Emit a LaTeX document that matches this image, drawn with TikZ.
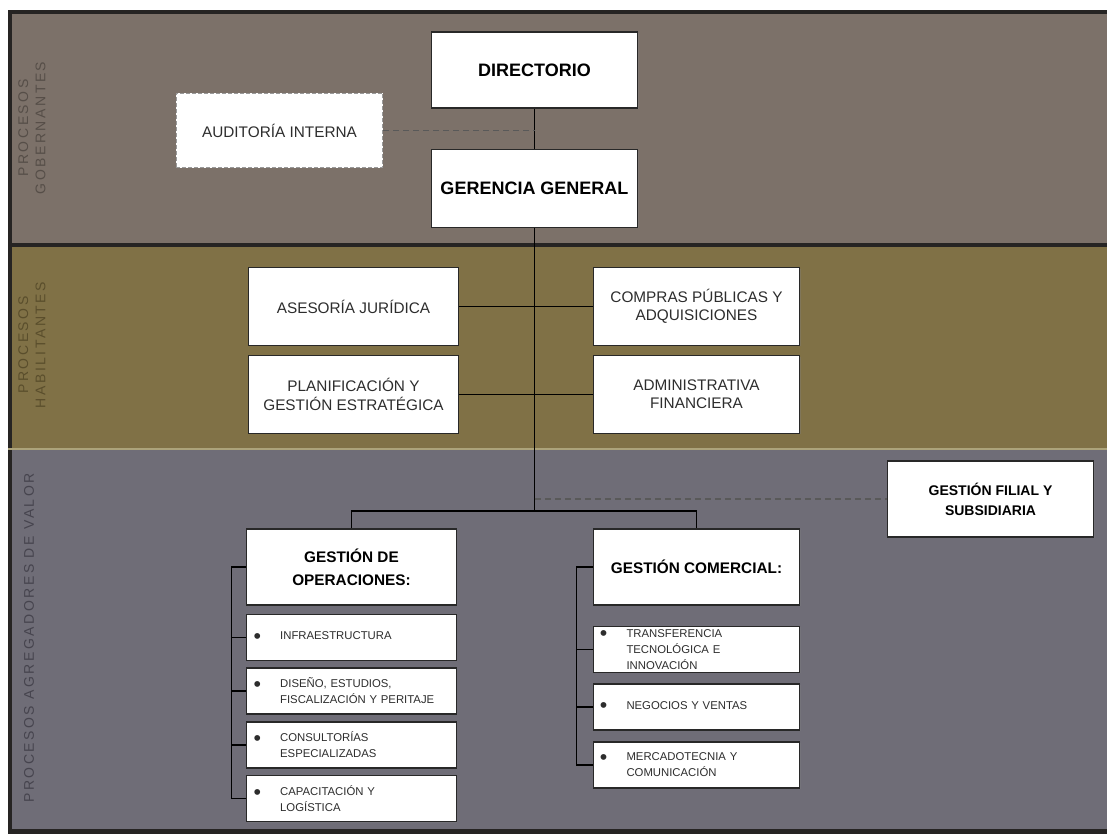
\documentclass[tikz,border=0pt]{standalone}
\usepackage{fontspec}
\setmainfont{Liberation Sans}
\newfontfamily\bandfont[LetterSpace=18]{Liberation Sans}
\usetikzlibrary{positioning,shadows}
\definecolor{bandgob}{RGB}{124,113,105}
\definecolor{bandhab}{RGB}{128,113,70}
\definecolor{bandval}{RGB}{111,109,119}
\definecolor{txtgob}{RGB}{86,78,72}
\definecolor{txthab}{RGB}{90,78,44}
\definecolor{txtval}{RGB}{70,68,78}
\definecolor{framedark}{RGB}{38,36,35}
\definecolor{bandline}{RGB}{172,163,122}
\definecolor{boxline}{RGB}{40,40,40}
\definecolor{boxtext}{RGB}{45,45,45}
\newcommand{\itm}[1]{\makebox[20pt][l]{\raisebox{-2.8pt}{\fontsize{16}{12}\selectfont\textbullet}}\parbox[t]{125pt}{#1}}

\begin{document}
\begin{tikzpicture}[
    x=0.75pt, y=-0.75pt,
    node distance=5pt,
    plainbox/.style={draw=boxline, fill=white, line width=0.9pt, align=center,
                text=boxtext, font=\fontsize{11.5}{13.8}\selectfont,
                minimum width=155pt, minimum height=57pt, inner sep=2pt},
    box/.style={plainbox, drop shadow={shadow xshift=0.8pt, shadow yshift=-0.8pt, opacity=0.35}},
    boxbold/.style={box, font=\bfseries\fontsize{11.5}{17}\selectfont, text=black},
    topbox/.style={boxbold, font=\bfseries\fontsize{13.5}{16}\selectfont},
    dashbox/.style={plainbox, draw=black!40, dash pattern=on 3pt off 1.5pt},
    itembox/.style={box, align=left, font=\fontsize{8.5}{12}\selectfont,
                minimum height=34.5pt, text width=147pt, inner xsep=5pt},
    band/.style={rotate=90, align=center, font=\bandfont\fontsize{10.5}{13}\selectfont},
    conn/.style={line width=0.9pt, black},
    dconn/.style={line width=0.9pt, black!65, dash pattern=on 4.5pt off 3pt}
]
\useasboundingbox (0,0) rectangle (1107,834);
\fill[white] (0,0) rectangle (1107,834);
\fill[bandgob] (8,11) rectangle (1107,245);
\fill[bandhab] (8,245) rectangle (1107,448);
\fill[bandval] (8,448) rectangle (1107,830);
\fill[framedark] (8,829) rectangle (1107,834);
\draw[framedark, line width=3pt] (9.5,834) -- (9.5,12) -- (1107,12);
\draw[framedark, line width=3pt] (8,245) -- (1107,245);
\draw[bandline, line width=1.2pt] (8,449) -- (1107,449);

\node[band, text=txtgob] (lgob) at (32,128) {PROCESOS\\GOBERNANTES};
\node[band, text=txthab] (lhab) at (32,345) {PROCESOS\\HABILITANTES};
\node[band, text=txtval] (lval) at (29,638) {PROCESOS AGREGADORES DE VALOR};

\node[topbox] (dir) at (534.5,70) {DIRECTORIO};
\node[topbox, minimum height=58pt] (ger) at (534.5,188.5) {GERENCIA GENERAL};
\node[dashbox, minimum height=56pt] (aud) at (279.5,130.5) {AUDITORÍA INTERNA};

\node[box, minimum width=157pt, minimum height=58pt] (ase) at (353.5,306.5) {ASESORÍA JURÍDICA};
\node[box, minimum height=58pt] (cpa) at (696.5,306.5) {COMPRAS PÚBLICAS Y\\ADQUISICIONES};
\node[box, minimum width=157pt, minimum height=58pt] (pla) at (353.5,394.5) {PLANIFICACIÓN Y\\GESTIÓN ESTRATÉGICA};
\node[box, minimum height=58pt] (adm) at (696.5,394.5) {ADMINISTRATIVA\\FINANCIERA};

\node[boxbold, font=\bfseries\fontsize{10.5}{15}\selectfont] (fil) at (990.5,499) {GESTIÓN FILIAL Y\\SUBSIDIARIA};

\node[boxbold, minimum width=157pt] (ops) at (351.5,567) {GESTIÓN DE\\OPERACIONES:};
\node[itembox, below=6pt of ops] (inf) {\itm{INFRAESTRUCTURA}};
\node[itembox, below=of inf] (dis) {\itm{DISEÑO, ESTUDIOS,\\FISCALIZACIÓN Y PERITAJE}};
\node[itembox, below=of dis] (con) {\itm{CONSULTORÍAS\\ESPECIALIZADAS}};
\node[itembox, below=of con] (cap) {\itm{CAPACITACIÓN Y\\LOGÍSTICA}};

\node[boxbold] (com) at (696.5,567) {GESTIÓN COMERCIAL:};
\node[itembox, text width=145pt, below=15pt of com] (tra) {\itm{TRANSFERENCIA\\TECNOLÓGICA E\\INNOVACIÓN}};
\node[itembox, text width=145pt, below=8pt of tra] (neg) {\itm{NEGOCIOS Y VENTAS}};
\node[itembox, text width=145pt, below=8pt of neg] (mer) {\itm{MERCADOTECNIA Y\\COMUNICACIÓN}};

\coordinate (jaud) at (dir.south |- aud.east);
\coordinate (jfil) at (dir.south |- fil.west);
\coordinate (jfork) at (534.5,511);

\draw[conn] (dir) -- (ger);
\draw[dconn] (aud) -- (jaud);
\draw[conn] (ger) -- (jfork);
\draw[conn] (ase) -- (cpa);
\draw[conn] (pla) -- (adm);
\draw[dconn] (jfil) -- (fil);
\draw[conn] (jfork) -| (ops);
\draw[conn] (jfork) -| (com);

\draw[conn] (ops.west) -- ++(-15,0) coordinate (opsbar) |- (cap.west);
\foreach \n in {inf,dis,con} \draw[conn] (opsbar |- \n.west) -- (\n.west);
\draw[conn] (com.west) -- ++(-16,0) coordinate (combar) |- (mer.west);
\foreach \n in {tra,neg} \draw[conn] (combar |- \n.west) -- (\n.west);
\end{tikzpicture}
\end{document}
